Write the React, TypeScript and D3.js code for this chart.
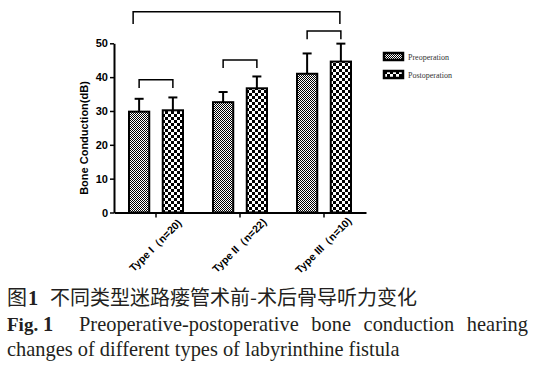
import React, { useEffect, useRef } from 'react';
import * as d3 from 'd3';

const groups = ['Type I（n=20)', 'Type II（n=22)', 'Type III（n=10)'];
const series = ['Preoperation', 'Postoperation'];
const preMean = [29.8, 32.6, 41.0];
const preSD = [3.8, 3.0, 6.0];
const postMean = [30.2, 36.7, 44.6];
const postSD = [3.8, 3.5, 5.3];
const yTicks = [0, 10, 20, 30, 40, 50];
// significance brackets, in dB
const pairBracket = [39.2, 45.1, 53.6];
const overallBracket = 59.3;
const bracketDrop = 2.4;

const captionCn = '不同类型迷路瘘管术前-术后骨导听力变化';
const captionEn1 = ['Preoperative-postoperative', 'bone', 'conduction', 'hearing'];
const captionEn2 = 'changes of different types of labyrinthine fistula';

const App = () => {
  const chart = useRef(null);
  const width = 534;
  const height = 370;

  useEffect(() => {
    const svg = d3.select(chart.current);
    svg.selectAll('*').remove();

    const y = d3.scaleLinear().domain([0, 50]).range([212.5, 43.3]);
    const x0 = d3.scaleBand().domain(groups).range([114, 366]);
    const x1 = d3.scaleBand().domain(series).range([-27, 27]).paddingInner(0.4);
    const cx = g => x0(g) + x0.bandwidth() / 2;
    const barX = (g, s) => cx(g) + x1(s) + x1.bandwidth() / 2;

    const defs = svg.append('defs');
    const pre = defs.append('pattern').attr('id', 'pat-pre')
      .attr('patternUnits', 'userSpaceOnUse').attr('width', 2).attr('height', 2);
    pre.append('rect').attr('width', 2).attr('height', 2).attr('fill', '#fff');
    pre.append('rect').attr('width', 1).attr('height', 1).attr('fill', '#000');
    pre.append('rect').attr('x', 1).attr('y', 1).attr('width', 1).attr('height', 1).attr('fill', '#000');
    const post = defs.append('pattern').attr('id', 'pat-post')
      .attr('patternUnits', 'userSpaceOnUse').attr('width', 6).attr('height', 6);
    post.append('rect').attr('width', 6).attr('height', 6).attr('fill', '#fff');
    post.append('rect').attr('width', 3).attr('height', 3).attr('fill', '#000');
    post.append('rect').attr('x', 3).attr('y', 3).attr('width', 3).attr('height', 3).attr('fill', '#000');
    const fills = { Preoperation: 'url(#pat-pre)', Postoperation: 'url(#pat-post)' };

    // axes
    const yAxis = svg.append('g')
      .attr('transform', 'translate(114,0)')
      .call(d3.axisLeft(y).tickValues(yTicks).tickSize(4).tickSizeOuter(0).tickPadding(2));
    yAxis.select('.domain').attr('stroke-width', 2);
    yAxis.selectAll('.tick line').attr('stroke-width', 1.5);
    yAxis.selectAll('.tick text')
      .attr('font-family', 'Liberation Sans, Arial, sans-serif')
      .attr('font-weight', 'bold').attr('font-size', 11).attr('fill', '#000');

    const xAxis = svg.append('g')
      .attr('transform', `translate(0,${y(0)})`)
      .call(d3.axisBottom(x0).tickSize(5).tickSizeOuter(0));
    xAxis.select('.domain').attr('stroke-width', 2);
    xAxis.selectAll('.tick line').attr('stroke-width', 1.5);
    xAxis.selectAll('.tick text').remove();

    svg.append('g').selectAll('text')
      .data(groups)
      .join('text')
      .attr('transform', d => `translate(${cx(d) + 2},248) rotate(-45)`)
      .attr('text-anchor', 'middle')
      .attr('font-family', 'Liberation Sans, Arial, sans-serif')
      .attr('font-weight', 'bold').attr('font-size', 10.5)
      .text(d => d);

    svg.append('text')
      .attr('transform', 'translate(88,138) rotate(-90)')
      .attr('text-anchor', 'middle')
      .attr('font-family', 'Liberation Sans, Arial, sans-serif')
      .attr('font-weight', 'bold').attr('font-size', 11)
      .text('Bone Conduction(dB)');

    // bars
    const rows = groups.flatMap((g, i) => [
      { g, s: 'Preoperation', v: preMean[i], sd: preSD[i] },
      { g, s: 'Postoperation', v: postMean[i], sd: postSD[i] },
    ]);
    const bars = svg.append('g');
    bars.selectAll('line')
      .data(rows)
      .join('line')
      .attr('x1', d => barX(d.g, d.s)).attr('x2', d => barX(d.g, d.s))
      .attr('y1', d => y(d.v)).attr('y2', d => y(d.v + d.sd))
      .attr('stroke', '#000').attr('stroke-width', 2);
    bars.selectAll('.cap')
      .data(rows)
      .join('line')
      .attr('class', 'cap')
      .attr('x1', d => barX(d.g, d.s) - 4.5).attr('x2', d => barX(d.g, d.s) + 4.5)
      .attr('y1', d => y(d.v + d.sd)).attr('y2', d => y(d.v + d.sd))
      .attr('stroke', '#000').attr('stroke-width', 2);
    bars.selectAll('rect')
      .data(rows)
      .join('rect')
      .attr('x', d => cx(d.g) + x1(d.s))
      .attr('width', x1.bandwidth())
      .attr('y', d => y(d.v))
      .attr('height', d => y(0) - y(d.v))
      .attr('fill', d => fills[d.s])
      .attr('stroke', '#000').attr('stroke-width', 2);

    // brackets
    const bracket = (xa, xb, level) => {
      const top = y(level);
      const bot = y(level - bracketDrop * (level === overallBracket ? 1.5 : 1));
      return `M${xa},${bot}V${top}H${xb}V${bot}`;
    };
    const br = svg.append('g').attr('fill', 'none').attr('stroke', '#000').attr('stroke-width', 1.5);
    br.selectAll('path')
      .data(groups)
      .join('path')
      .attr('d', (g, i) => bracket(barX(g, 'Preoperation'), barX(g, 'Postoperation'), pairBracket[i]));
    br.append('path')
      .attr('d', bracket(barX(groups[0], 'Preoperation') - 6, barX(groups[2], 'Postoperation') - 1, overallBracket));

    // legend
    const lg = svg.append('g').selectAll('g')
      .data(series)
      .join('g')
      .attr('transform', (d, i) => `translate(384,${53 + i * 18})`);
    lg.append('rect')
      .attr('width', 19).attr('height', 7)
      .attr('fill', d => fills[d])
      .attr('stroke', '#000').attr('stroke-width', 2.5);
    lg.append('text')
      .attr('x', 24).attr('y', 6.5)
      .attr('font-family', 'Liberation Serif, Times New Roman, serif')
      .attr('font-size', 8).attr('fill', '#333')
      .text(d => d);

    // caption
    const serif = 'Liberation Serif, Times New Roman, serif';
    const cjk = 'Noto Sans CJK SC, sans-serif';
    const cap = svg.append('g').attr('fill', '#231f20').attr('font-size', 20.4);
    cap.append('text').attr('x', 7).attr('y', 305)
      .attr('font-family', cjk).attr('font-size', 20).text('图');
    cap.append('text').attr('x', 28).attr('y', 305)
      .attr('font-family', serif).attr('font-weight', 'bold').text('1');
    cap.append('text').attr('x', 50).attr('y', 305)
      .attr('font-family', cjk).attr('font-size', 20).text(captionCn);

    cap.append('text').attr('x', 7).attr('y', 331)
      .attr('font-family', serif).attr('font-weight', 'bold').attr('font-size', 19).text('Fig.');
    cap.append('text').attr('x', 43).attr('y', 331)
      .attr('font-family', serif).attr('font-weight', 'bold').text('1');
    const words = cap.append('g').selectAll('text')
      .data(captionEn1)
      .join('text')
      .attr('y', 331)
      .attr('font-family', serif)
      .text(d => d);
    const widths = words.nodes().map(n => n.getComputedTextLength());
    const left = 79;
    const right = 528;
    const gap = (right - left - d3.sum(widths)) / (widths.length - 1);
    let pos = left;
    words.each(function (d, i) {
      d3.select(this).attr('x', pos);
      pos += widths[i] + gap;
    });

    cap.append('text').attr('x', 7).attr('y', 356)
      .attr('font-family', serif).text(captionEn2);
  }, []);

  return (
    <svg
      ref={chart}
      width={width}
      height={height}
      style={{ position: 'absolute', left: 0, top: 0, background: '#fff' }}
    />
  );
};

export default App;
